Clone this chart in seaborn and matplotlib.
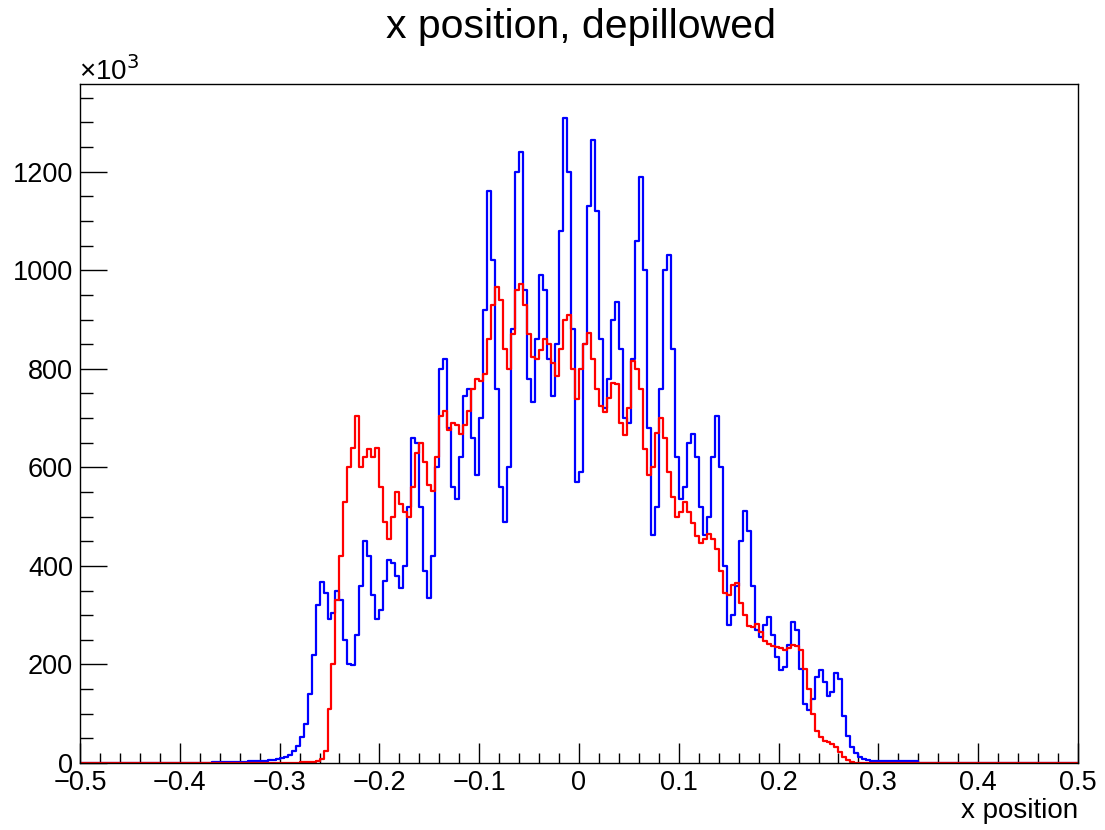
import numpy as np
import pandas as pd
import matplotlib
matplotlib.use("Agg")
import matplotlib.pyplot as plt
from matplotlib.ticker import MultipleLocator
import seaborn as sns

# ---------------- data (counts in units of 10^3, bin width 0.004) ----------------
bin_width = 0.004
x_min, x_max = -0.5, 0.5

blue_first_center = -0.370
blue_counts = [
    0, 3, 3, 3, 3, 3, 3, 3, 3, 3,
    4, 4, 4, 5, 5, 6, 7, 8, 10, 13,
    16, 24, 35, 52, 80, 140, 220, 320, 368, 345,
    292, 305, 350, 330, 250, 200, 198, 260, 360, 450,
    420, 340, 292, 310, 370, 412, 405, 380, 355, 400,
    520, 660, 650, 520, 390, 335, 420, 600, 800, 820,
    680, 560, 535, 620, 745, 760, 660, 585, 700, 920,
    1160, 1020, 760, 560, 490, 600, 880, 1200, 1240, 960,
    780, 732, 860, 990, 960, 820, 745, 850, 1080, 1310,
    1200, 880, 570, 590, 850, 1130, 1265, 1120, 860, 720,
    780, 900, 935, 840, 700, 690, 820, 1060, 1190, 1000,
    680, 462, 520, 760, 1000, 1030, 840, 620, 535, 560,
    650, 668, 620, 520, 462, 500, 620, 705, 600, 400,
    280, 300, 360, 450, 512, 470, 360, 270, 256, 280,
    296, 260, 215, 188, 195, 240, 286, 270, 190, 120,
    108, 130, 175, 188, 165, 135, 145, 182, 170, 95,
    55, 33, 20, 12, 8, 6, 5, 5, 4, 4,
    4, 4, 4, 4, 4, 4, 4, 4, 0,
]

red_first_center = -0.278
red_counts = [
    2, 3, 3, 3, 4, 8, 25, 110, 200, 330,
    420, 530, 600, 640, 705, 600, 620, 638, 622, 640,
    560, 490, 455, 500, 550, 525, 510, 500, 560, 630,
    650, 610, 565, 552, 620, 705, 714, 675, 690, 685,
    668, 685, 715, 760, 780, 775, 790, 860, 930, 966,
    940, 840, 800, 870, 960, 972, 930, 870, 824, 820,
    838, 860, 850, 812, 786, 840, 900, 910, 800, 738,
    800, 850, 872, 820, 760, 725, 712, 740, 772, 770,
    690, 665, 720, 815, 800, 760, 637, 585, 600, 670,
    700, 660, 590, 540, 500, 510, 530, 510, 488, 460,
    447, 455, 465, 455, 435, 390, 345, 340, 362, 365,
    325, 300, 278, 276, 282, 265, 248, 242, 238, 236,
    234, 230, 234, 240, 238, 230, 190, 150, 100, 65,
    52, 45, 42, 38, 32, 22, 12, 6, 2, 0,
]

x_ticks = [-0.5, -0.4, -0.3, -0.2, -0.1, 0, 0.1, 0.2, 0.3, 0.4, 0.5]
x_tick_labels = ["\u22120.5", "\u22120.4", "\u22120.3", "\u22120.2", "\u22120.1", "0",
                 "0.1", "0.2", "0.3", "0.4", "0.5"]
y_ticks = [0, 200, 400, 600, 800, 1000, 1200]
y_tick_labels = ["0", "200", "400", "600", "800", "1000", "1200"]

title_text = "x position, depillowed"
xlabel_text = "x position"

# ---------------- build full-range histograms ----------------
n_bins = int(round((x_max - x_min) / bin_width))
edges = np.linspace(x_min, x_max, n_bins + 1)
centers = 0.5 * (edges[:-1] + edges[1:])


def full_weights(first_center, vals):
    w = np.zeros(n_bins)
    i0 = int(round((first_center - centers[0]) / bin_width))
    w[i0:i0 + len(vals)] = vals
    return w


df_blue = pd.DataFrame({"x": centers, "w": full_weights(blue_first_center, blue_counts)})
df_red = pd.DataFrame({"x": centers, "w": full_weights(red_first_center, red_counts)})

# ---------------- style ----------------
sns.set_style("ticks")
plt.rcParams["font.family"] = ["Liberation Sans", "DejaVu Sans"]
plt.rcParams["text.color"] = "black"

fig = plt.figure(figsize=(11.05, 8.30), dpi=100)
ax = fig.add_axes([80 / 1105, 1 - 763 / 830, (1078 - 80) / 1105, (763 - 84) / 830])

sns.histplot(data=df_blue, x="x", weights="w", bins=n_bins, binrange=(x_min, x_max),
             element="step", fill=False, color="#0000ff", linewidth=1.6, ax=ax)
sns.histplot(data=df_red, x="x", weights="w", bins=n_bins, binrange=(x_min, x_max),
             element="step", fill=False, color="#ff0000", linewidth=1.6, ax=ax)

ax.set_xlim(x_min, x_max)
ax.set_ylim(0, 1378)
ax.set_xlabel("")
ax.set_ylabel("")

ax.set_xticks(x_ticks)
ax.set_xticklabels(x_tick_labels)
ax.set_yticks(y_ticks)
ax.set_yticklabels(y_tick_labels)
ax.xaxis.set_minor_locator(MultipleLocator(0.02))
ax.yaxis.set_minor_locator(MultipleLocator(50))

ax.tick_params(axis="x", which="major", direction="in", length=14.5, width=1.0,
               labelsize=19.5, pad=5, color="black", labelcolor="black")
ax.tick_params(axis="x", which="minor", direction="in", length=7.2, width=1.0, color="black")
ax.tick_params(axis="y", which="major", direction="in", length=19.5, width=1.0,
               labelsize=19.5, pad=5, color="black", labelcolor="black")
ax.tick_params(axis="y", which="minor", direction="in", length=9.5, width=1.0, color="black")
ax.tick_params(top=False, right=False, which="both")

for side in ["left", "bottom", "right", "top"]:
    ax.spines[side].set_visible(True)
    ax.spines[side].set_color("black")
    ax.spines[side].set_linewidth(1.0)

fig.text(581 / 1105, 1 - 27 / 830, title_text, ha="center", va="center",
         fontsize=29.5, color="black")
fig.text(1078 / 1105, 1 - 811 / 830, xlabel_text, ha="right", va="center",
         fontsize=20, color="black")
fig.text(79 / 1105, 1 - 71 / 830, "\u00d710$^{3}$", ha="left", va="center",
         fontsize=20, color="black")

fig.savefig("out.png", dpi=100)
